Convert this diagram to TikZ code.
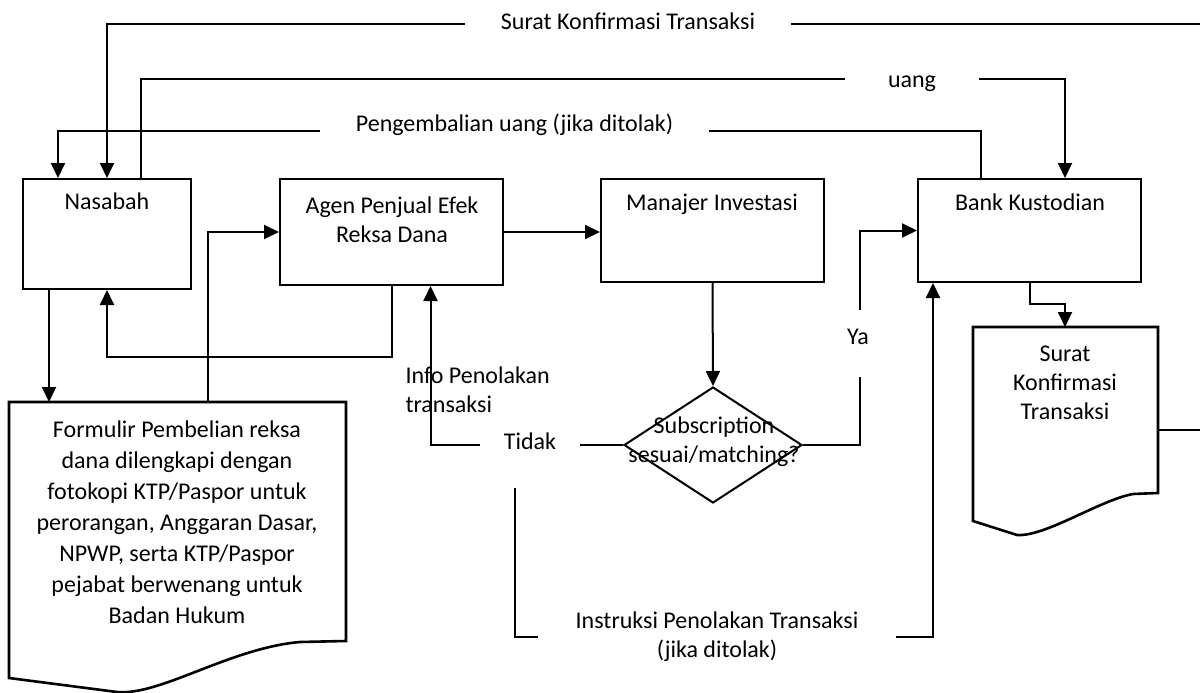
\documentclass[tikz,border=0pt]{standalone}
\usepackage{fontspec}
\setmainfont{Carlito}
\usetikzlibrary{arrows.meta,shapes.geometric,calc}
\begin{document}
\begin{tikzpicture}[x=1pt,y=-1pt,
  every node/.style={font=\fontsize{24}{29}\selectfont},
  box/.style={draw,line width=2pt,inner sep=0pt},
  doc/.style={draw,line width=2.6pt,line join=miter},
  arr/.style={line width=2pt,-{Triangle[width=14pt,length=15pt]}},
  lbl/.style={fill=white,inner ysep=3pt},
  txt/.style={align=center,anchor=base}]
\useasboundingbox (0,0) rectangle (1200,693);

% boxes
\node[box,minimum width=168pt,minimum height=110pt] (nas) at (107,234) {};
\node[box,minimum width=223pt,minimum height=106pt] (agen) at (391.5,232) {};
\node[box,minimum width=223pt,minimum height=103pt] (mi) at (712.5,230.5) {};
\node[box,minimum width=223pt,minimum height=103pt] (bank) at (1029.5,230.5) {};
\node[draw,diamond,line width=2pt,minimum width=178pt,minimum height=116pt,inner sep=0pt] (dec) at (713,445) {};

% documents
\draw[doc] (9,402) coordinate (fTL) -- (346,402) -- (346,641) -- (300,642)
  .. controls (230,648) and (160,696) .. (117,692) -- (9,678) -- cycle;
\draw[doc] (973,327) coordinate (sTL) -- (1158,327) -- (1158,493) -- (1133,494)
  .. controls (1100,500) and (1045,537) .. (1017,535) -- (973,521) -- cycle;
\coordinate (sTop) at (1065,327);
\coordinate (sR) at (1158,430);
\coordinate (ins) at (515,488);
\coordinate (insC) at (515,637);

% texts (base anchor = baseline of last line)
\node[txt] (tnas) at (107,209) {Nasabah};
\node[txt] (tagen) at (392,242) {Agen Penjual Efek\\Reksa Dana};
\node[txt] (tmi) at (712,210) {Manajer Investasi};
\node[txt] (tbank) at (1030,210) {Bank Kustodian};
\node[txt] (tsurat) at (1065,419) {Surat\\Konfirmasi\\Transaksi};
\node[txt,font=\fontsize{24}{31}\selectfont] (tform) at (177,623) {Formulir Pembelian reksa\\dana dilengkapi dengan\\fotokopi KTP/Paspor untuk\\perorangan, Anggaran Dasar,\\NPWP, serta KTP/Paspor\\pejabat berwenang untuk\\Badan Hukum};

% connectors
\draw[arr] ([xshift=-58pt]nas.south) coordinate (e1) -- (e1 |- fTL);
\draw[arr] ([xshift=199pt]fTL) -- ++(0,-170) -- (agen.west);
\draw[arr] (agen.south) -- ++(0,71) -| (nas.south);
\draw[arr] (agen.east) -- (mi.west |- agen.east);
\draw[arr] (mi.south) -- (dec.north);
\draw[arr] (dec.west) -| ([xshift=39pt]agen.south);
\draw[arr] (dec.east) -| ([xshift=-57pt]bank.west) -- (bank.west);
\draw[arr] (ins) -- (insC) -| ([xshift=-96.5pt]bank.south);
\draw[arr] (bank.south) -- ++(0,21) -| (sTop);
\draw[arr] (sR) -- (1203,430) -- (1203,24) -| (nas.north);
\draw[arr] ([xshift=34pt]nas.north) -- ++(0,-99) -| ([xshift=35.5pt]bank.north);
\draw[arr] ([xshift=-48.5pt]bank.north) -- ++(0,-47) -| ([xshift=-49pt]nas.north);

% labels on connectors
\node[lbl,anchor=base,inner xsep=36pt] (lsurat) at (628,30) {Surat Konfirmasi Transaksi};
\node[lbl,anchor=base,inner xsep=43pt] (luang) at (912,88) {uang};
\node[lbl,anchor=base,inner xsep=36pt] (lpeng) at (514.5,131) {Pengembalian uang (jika ditolak)};
\node[lbl,anchor=base,inner xsep=24pt] (ltidak) at (530,449) {Tidak};
\node[fill=white,anchor=base,text height=34pt,text depth=33pt,inner ysep=0pt,inner xsep=4pt] (lya) at (858,344) {Ya};
\node[lbl,txt,inner xsep=38pt] (lins) at (717,657) {Instruksi Penolakan Transaksi\\(jika ditolak)};
\node[txt,align=left,anchor=base west] (tinfo) at (402,412) {Info Penolakan\\transaksi};
\node[txt] (tdec) at (714,462) {Subscription\\sesuai/matching?};
\end{tikzpicture}
\end{document}
